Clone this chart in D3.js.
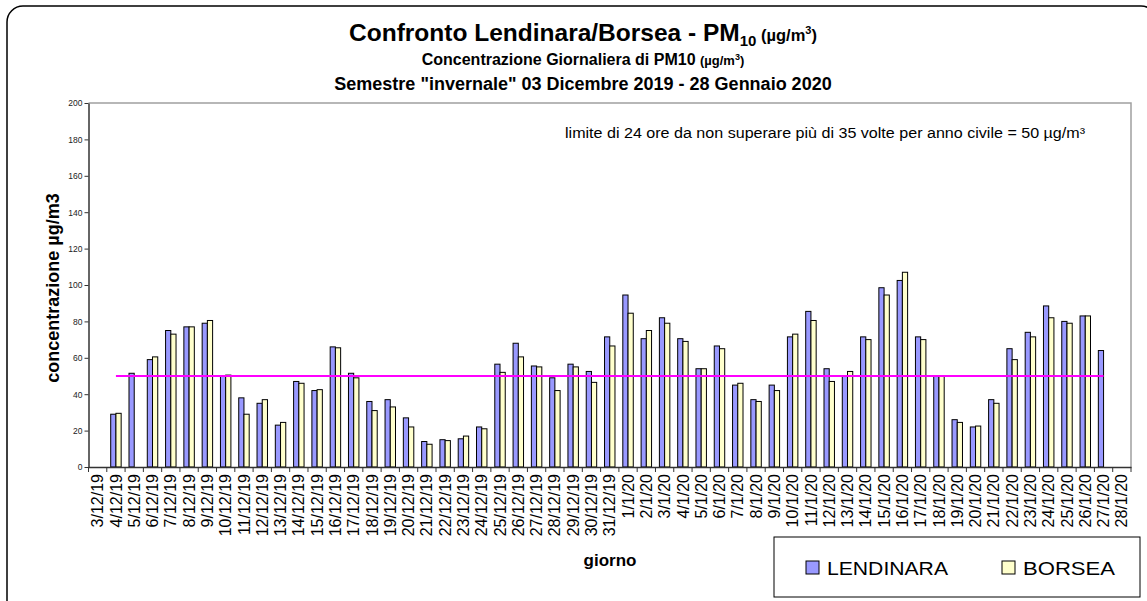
<!DOCTYPE html>
<html>
<head>
<meta charset="utf-8">
<script src="https://cdn.jsdelivr.net/npm/d3@7"></script>
<style>
  body { margin: 0; background: #fff; }
  text { font-family: "Liberation Sans", Arial, sans-serif; }
</style>
</head>
<body>
<svg id="chart"></svg>
<script>
// pm10 lendinara / borsea

var giorni = ["3/12/19","4/12/19","5/12/19","6/12/19","7/12/19","8/12/19","9/12/19","10/12/19",
  "11/12/19","12/12/19","13/12/19","14/12/19","15/12/19","16/12/19","17/12/19","18/12/19",
  "19/12/19","20/12/19","21/12/19","22/12/19","23/12/19","24/12/19","25/12/19","26/12/19",
  "27/12/19","28/12/19","29/12/19","30/12/19","31/12/19","1/1/20","2/1/20","3/1/20","4/1/20",
  "5/1/20","6/1/20","7/1/20","8/1/20","9/1/20","10/1/20","11/1/20","12/1/20","13/1/20",
  "14/1/20","15/1/20","16/1/20","17/1/20","18/1/20","19/1/20","20/1/20","21/1/20","22/1/20",
  "23/1/20","24/1/20","25/1/20","26/1/20","27/1/20","28/1/20"];

var lendinara = [null, 29, 51.5, 59, 75, 77, 79, 50, 38, 35, 23, 47, 42, 66, 51.5, 36, 37, 27, 14, 15,
  15.5, 22, 56.5, 68, 55.5, 49, 56.5, 52.5, 71.5, 94.5, 70.5, 82, 70.5, 54, 66.5, 45, 37, 45, 71.5,
  85.5, 54, 50, 71.5, 98.5, 102.5, 71.5, 50, 26, 22, 37, 65, 74, 88.5, 80, 83, 64, null];

var borsea = [null, 29.5, null, 60.5, 73, 77, 80.5, 50.5, 29, 37, 24.5, 46, 42.5, 65.5, 49, 31, 33, 22,
  12.5, 14.5, 17, 21, 52, 60.5, 55, 42, 55, 46.5, 66.5, 84.5, 75, 79, 69, 54, 65, 46, 36, 42, 73,
  80.5, 47, 52.5, 70, 94.5, 107, 70, 50, 24.5, 22.5, 35, 59, 71.5, 82, 79, 83, null, null];

// soglia giornaliera 50 ug/m3
var limite = [{ giorno: "4/12/19", v: 50 }, { giorno: "27/1/20", v: 50 }];

var yTicks = [0, 20, 40, 60, 80, 100, 120, 140, 160, 180, 200];

var serie = [
  { nome: "LENDINARA", valori: lendinara, colore: "#9999ff" },
  { nome: "BORSEA", valori: borsea, colore: "#ffffcc" }
];

var width = 1147, height = 601;
var pLeft = 88.5, pRight = 1131, pTop = 103, pBottom = 467;

var chart = d3.select("#chart").attr("width", width).attr("height", height);

// cornice esterna
chart.append("rect")
  .attr("x", 7).attr("y", 6)
  .attr("width", 1150).attr("height", 610)
  .attr("rx", 16)
  .style("fill", "#fff").style("stroke", "#000").style("stroke-width", 1.5);

var xscale = d3.scaleBand().domain(giorni).range([pLeft, pRight]).padding(0);
var yscale = d3.scaleLinear().domain([0, 200]).range([pBottom, pTop]);

var bw = xscale.bandwidth() / 3.5;

// bordo area grafico
chart.append("path")
  .attr("d", "M" + pLeft + "," + pTop + "H" + pRight + "V" + pBottom)
  .style("fill", "none").style("stroke", "#a0a0a0").style("stroke-width", 1.5);

// barre
serie.forEach(function(s, i) {
  chart.append("g").selectAll("rect")
    .data(s.valori.map(function(v, j) { return { g: giorni[j], v: v }; })
      .filter(function(d) { return d.v !== null; }))
    .enter().append("rect")
    .attr("x", function(d) { return xscale(d.g) + bw * 0.75 + i * bw; })
    .attr("y", function(d) { return yscale(d.v); })
    .attr("width", bw)
    .attr("height", function(d) { return yscale(0) - yscale(d.v); })
    .style("fill", s.colore)
    .style("stroke", "#000")
    .style("stroke-width", 1);
});

// linea limite
var line = d3.line()
  .x(function(d) { return xscale(d.giorno) + xscale.bandwidth() / 2; })
  .y(function(d) { return yscale(d.v); });

chart.append("path")
  .datum(limite)
  .attr("d", line)
  .style("fill", "none").style("stroke", "#ff00ff").style("stroke-width", 2.2);

// asse y
var yaxis = chart.append("g")
  .attr("transform", "translate(" + pLeft + ",0)")
  .call(d3.axisLeft(yscale).tickValues(yTicks).tickSize(4).tickSizeOuter(0));
yaxis.select(".domain").style("stroke", "#333").style("stroke-width", 1.5);
yaxis.selectAll("line").style("stroke", "#333");
yaxis.selectAll("text")
  .style("font-size", "8.5px").style("fill", "#222")
  .attr("x", -6).attr("dy", "0.35em");

// asse x
var xaxis = chart.append("g")
  .attr("transform", "translate(0," + pBottom + ")")
  .call(d3.axisBottom(xscale).tickSize(0).tickSizeOuter(0));
xaxis.select(".domain").style("stroke", "#333").style("stroke-width", 1.5);
xaxis.selectAll("text")
  .style("font-size", "16px").style("fill", "#000")
  .attr("text-anchor", "end")
  .attr("transform", "rotate(-90)")
  .attr("x", -7).attr("y", 0).attr("dy", "0.35em");

// tacche tra le categorie
chart.append("g").selectAll("line")
  .data(giorni.concat(["fine"]))
  .enter().append("line")
  .attr("x1", function(d, i) { return i < giorni.length ? xscale(d) : pRight; })
  .attr("x2", function(d, i) { return i < giorni.length ? xscale(d) : pRight; })
  .attr("y1", pBottom).attr("y2", pBottom + 5)
  .style("stroke", "#333").style("stroke-width", 1);

// titoli
var t1 = chart.append("text").attr("x", 583).attr("y", 41)
  .attr("text-anchor", "middle").style("font-weight", "bold").style("font-size", "24.5px");
t1.append("tspan").text("Confronto Lendinara/Borsea - PM");
t1.append("tspan").attr("dy", 5).style("font-size", "15px").text("10");
t1.append("tspan").attr("dy", -5).style("font-size", "16.5px").text(" (µg/m");
t1.append("tspan").attr("dy", -7).style("font-size", "11px").text("3");
t1.append("tspan").attr("dy", 7).style("font-size", "16.5px").text(")");

var t2 = chart.append("text").attr("x", 583).attr("y", 65)
  .attr("text-anchor", "middle").style("font-weight", "bold").style("font-size", "16px");
t2.append("tspan").text("Concentrazione Giornaliera di PM10 ");
t2.append("tspan").style("font-size", "13px").text("(µg/m");
t2.append("tspan").attr("dy", -5).style("font-size", "9px").text("3");
t2.append("tspan").attr("dy", 5).style("font-size", "13px").text(")");

chart.append("text").attr("x", 583).attr("y", 90)
  .attr("text-anchor", "middle").style("font-weight", "bold").style("font-size", "18px")
  .text("Semestre \"invernale\" 03 Dicembre 2019 - 28 Gennaio 2020");

chart.append("text").attr("x", 565).attr("y", 138)
  .style("font-size", "14px")
  .attr("textLength", 520).attr("lengthAdjust", "spacingAndGlyphs")
  .text("limite di 24 ore da non superare più di 35 volte per anno civile = 50 µg/m³");

// etichette assi
chart.append("text")
  .attr("transform", "translate(59," + ((pTop + pBottom) / 2 + 3) + ") rotate(-90)")
  .attr("text-anchor", "middle").style("font-weight", "bold").style("font-size", "18px")
  .text("concentrazione µg/m3");

chart.append("text").attr("x", 610).attr("y", 566)
  .attr("text-anchor", "middle").style("font-weight", "bold").style("font-size", "17px")
  .text("giorno");

// legenda
var legend = chart.append("g");
legend.append("rect")
  .attr("x", 774).attr("y", 537).attr("width", 366).attr("height", 60)
  .style("fill", "#fff").style("stroke", "#000").style("stroke-width", 1);

var lx = [806, 1002];
serie.forEach(function(s, i) {
  legend.append("rect")
    .attr("x", lx[i]).attr("y", 561).attr("width", 13).attr("height", 13)
    .style("fill", s.colore).style("stroke", "#000").style("stroke-width", 1);
  legend.append("text")
    .attr("x", lx[i] + 21).attr("y", 575)
    .style("font-size", "17.5px")
    .attr("textLength", i === 0 ? 121 : 92).attr("lengthAdjust", "spacingAndGlyphs")
    .text(s.nome);
});
</script>
</body>
</html>
